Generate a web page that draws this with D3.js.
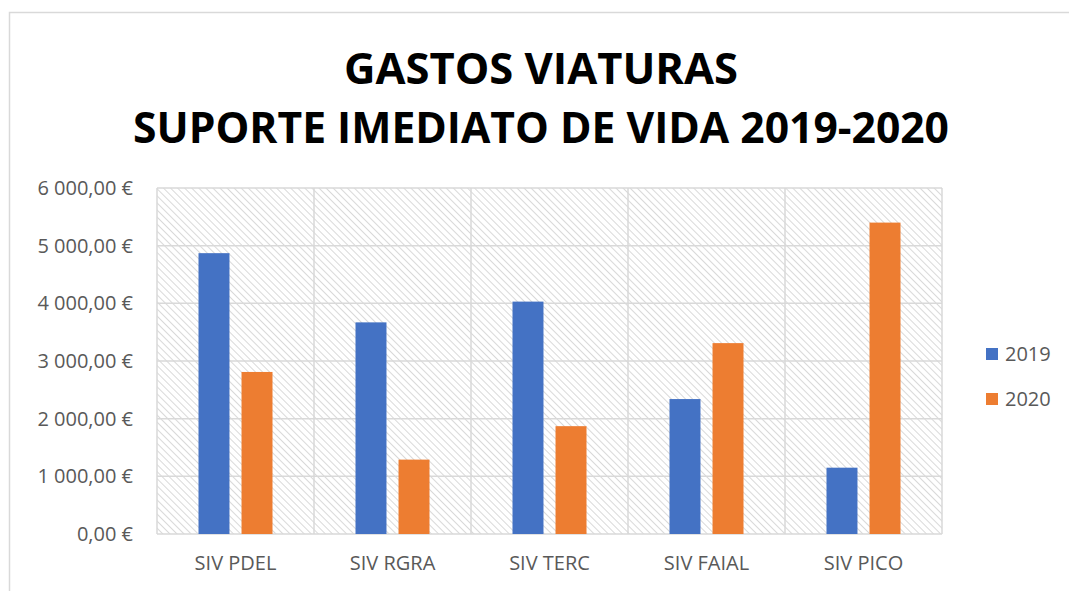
<!DOCTYPE html>
<html>
<head>
<meta charset="utf-8">
<script src="https://cdn.jsdelivr.net/npm/d3@7"></script>
<style>
  body { margin: 0; background: #fff; }
  text { font-family: "Open Sans", sans-serif; }
</style>
</head>
<body>
<script>
/* DATA */
var categories = ["SIV PDEL", "SIV RGRA", "SIV TERC", "SIV FAIAL", "SIV PICO"];
var years = ["2019", "2020"];
var values2019 = [4870, 3670, 4030, 2340, 1150];
var values2020 = [2810, 1290, 1870, 3310, 5400];
var yTicks = [0, 1000, 2000, 3000, 4000, 5000, 6000];
var titleLines = ["GASTOS VIATURAS", "SUPORTE IMEDIATO DE VIDA 2019-2020"];
var colors = {"2019": "#4472C4", "2020": "#ED7D31"};

var W = 1069, H = 591;
var margin = {top: 188, right: 127, bottom: 57, left: 157},
    width = W - margin.left - margin.right,
    height = H - margin.top - margin.bottom;

var rows = categories.map(function(c, i) {
  return {cat: c, values: [{year: "2019", v: values2019[i]}, {year: "2020", v: values2020[i]}]};
});

var x0 = d3.scaleBand().domain(categories).range([0, width]);
var x1 = d3.scaleBand().domain(years)
  .range([x0.bandwidth() / 2 - 37, x0.bandwidth() / 2 + 37]).paddingInner(0.28);
var y = d3.scaleLinear().domain([0, 6000]).range([height, 0]);

var fmt = function(d) {
  var s = d3.format(",.2f")(d).replace(/,/g, " ").replace(".", ",");
  return s + " €";
};

var svg = d3.select("body").append("svg")
  .attr("width", W).attr("height", H);

// hatch pattern (lines running top-left to bottom-right)
var defs = svg.append("defs");
var pat = defs.append("pattern")
  .attr("id", "hatch")
  .attr("patternUnits", "userSpaceOnUse")
  .attr("width", 5).attr("height", 5)
  .attr("patternTransform", "rotate(45)");
pat.append("rect").attr("width", 5).attr("height", 5).attr("fill", "#fff");
pat.append("line")
  .attr("x1", 0).attr("y1", 0).attr("x2", 5).attr("y2", 0)
  .attr("stroke", "#d9d9d9").attr("stroke-width", 2);

// chart border
svg.append("path")
  .attr("d", "M9.5," + (H + 5) + "V12.5H" + (W + 5))
  .attr("fill", "none").attr("stroke", "#d9d9d9").attr("stroke-width", 1.5);

// title
svg.selectAll(".title").data(titleLines).enter().append("text")
  .attr("class", "title")
  .attr("x", 541)
  .attr("y", function(d, i) { return 84 + i * 59; })
  .attr("text-anchor", "middle")
  .attr("font-size", 43).attr("font-weight", "bold")
  .attr("fill", "#000")
  .attr("textLength", function(d, i) { return i === 0 ? 394 : 816; })
  .attr("lengthAdjust", "spacingAndGlyphs")
  .text(function(d) { return d; });

var g = svg.append("g")
  .attr("transform", "translate(" + margin.left + "," + margin.top + ")");

g.append("rect")
  .attr("width", width).attr("height", height)
  .attr("fill", "url(#hatch)");

// horizontal gridlines
g.selectAll(".hgrid").data(yTicks).enter().append("line")
  .attr("x1", 0).attr("x2", width)
  .attr("y1", function(d) { return y(d); }).attr("y2", function(d) { return y(d); })
  .attr("stroke", "#d9d9d9").attr("stroke-width", 1.5);

// vertical gridlines between categories
var vx = categories.map(function(c) { return x0(c); }).concat([width]);
g.selectAll(".vgrid").data(vx).enter().append("line")
  .attr("x1", function(d) { return d; }).attr("x2", function(d) { return d; })
  .attr("y1", 0).attr("y2", height)
  .attr("stroke", "#d9d9d9").attr("stroke-width", 1.5);

// bars
var grp = g.selectAll(".grp").data(rows).enter().append("g")
  .attr("transform", function(d) { return "translate(" + x0(d.cat) + ",0)"; });
grp.selectAll("rect").data(function(d) { return d.values; }).enter().append("rect")
  .attr("x", function(d) { return x1(d.year); })
  .attr("width", x1.bandwidth())
  .attr("y", function(d) { return y(d.v); })
  .attr("height", function(d) { return height - y(d.v); })
  .attr("fill", function(d) { return colors[d.year]; });

// y axis labels
var yAxis = g.append("g")
  .attr("transform", "translate(-21,0)")
  .call(d3.axisLeft(y).tickValues(yTicks).tickFormat(fmt).tickSize(0));
yAxis.select(".domain").remove();
yAxis.selectAll("text")
  .attr("font-family", "'Open Sans', sans-serif")
  .attr("font-size", 20).attr("fill", "#595959");

// x axis labels
var xAxis = g.append("g")
  .attr("transform", "translate(0," + height + ")")
  .call(d3.axisBottom(x0).tickSize(0).tickPadding(22));
xAxis.select(".domain").remove();
xAxis.selectAll("text")
  .attr("font-family", "'Open Sans', sans-serif")
  .attr("font-size", 20).attr("fill", "#595959");

// legend
var leg = svg.selectAll(".leg").data(years).enter().append("g")
  .attr("transform", function(d, i) { return "translate(986," + (354 + i * 45) + ")"; });
leg.append("rect")
  .attr("x", 0).attr("y", -6).attr("width", 12).attr("height", 12)
  .attr("fill", function(d) { return colors[d]; });
leg.append("text")
  .attr("x", 19).attr("y", 0).attr("dy", "0.35em")
  .attr("font-size", 20).attr("fill", "#595959")
  .text(function(d) { return d; });
</script>
</body>
</html>
